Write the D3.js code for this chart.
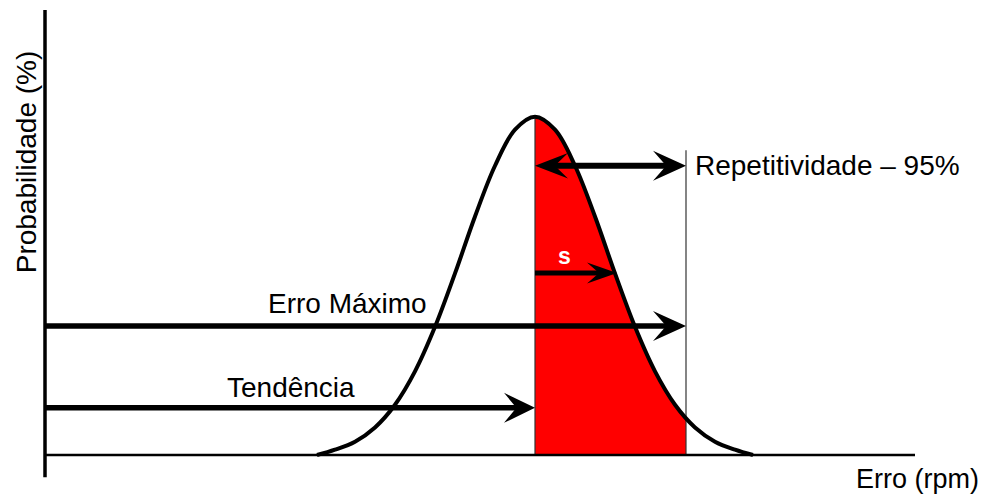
<!DOCTYPE html>
<html lang="pt">
<head>
<meta charset="utf-8">
<title>Erro - Tendência e Repetitividade</title>
<script src="https://cdn.jsdelivr.net/npm/d3@7"></script>
<style>
body { margin: 0; background: #fff; }
text {
  font-family: Arial, "Liberation Sans", sans-serif;
  font-size: 28px;
  fill: #000;
}
.bell { fill: none; stroke: #000; stroke-width: 4px; }
.axis { stroke: #000; }
.guide { stroke: #333; stroke-width: 1.2px; }
.shaft { stroke: #000; }
.head { fill: #000; }
</style>
</head>
<body>
<script>
// curva de distribuicao (erro relativo a media, probabilidade %)
var curveX = [-21.8, -20, -18, -16, -14, -12, -10, -8, -6, -4, -2, 0, 2, 4, 6, 8, 10, 12, 14, 16, 18, 20, 21.8];
var curveY = [0, 1.2, 3.0, 6.2, 11.3, 18.8, 28.8, 40.8, 53.6, 65.0, 73.1, 76, 73.1, 65.0, 53.6, 40.8, 28.8, 18.8, 11.3, 6.2, 3.0, 1.2, 0];

// grandezas marcadas (eixo x)
var erroDomain = [-49, 38];
var tendencia = 0;        // posicao da media
var repetitividade = 15.1; // limite 95%
var desvioS = 8.2;        // ponta da seta s

// alturas das setas (eixo y, %)
var probDomain = [0, 100];
var nivelRep = 65, nivelS = 40.9, nivelErroMax = 29, nivelTend = 10.6, topoGuia = 68.5;

var labels = {
  y: "Probabilidade (%)",
  x: "Erro (rpm)",
  rep: "Repetitividade \u2013 95%",
  erroMax: "Erro Máximo",
  tend: "Tendência",
  s: "s"
};

var w = 987, h = 496;

var svg = d3.select("body").append("svg")
  .attr("width", w)
  .attr("height", h);

var x = d3.scaleLinear().domain(erroDomain).range([45, 915]);
var y = d3.scaleLinear().domain(probDomain).range([455, 10]);

var pts = curveX.map(function(d, i){ return [d, curveY[i]]; });

// area vermelha entre media e limite de 95%
svg.append("clipPath").attr("id", "redclip")
  .append("rect")
  .attr("x", x(tendencia))
  .attr("y", 0)
  .attr("width", x(repetitividade) - x(tendencia))
  .attr("height", y(0));

var area = d3.area()
  .x(function(d){ return x(d[0]); })
  .y0(y(0))
  .y1(function(d){ return y(d[1]); })
  .curve(d3.curveCatmullRom);

svg.append("path")
  .datum(pts)
  .attr("d", area)
  .attr("clip-path", "url(#redclip)")
  .attr("fill", "#ff0000");

// linhas guia finas
svg.append("line").attr("class", "guide")
  .attr("x1", x(tendencia)).attr("x2", x(tendencia))
  .attr("y1", y(76)).attr("y2", y(0));
svg.append("line").attr("class", "guide")
  .attr("x1", x(repetitividade)).attr("x2", x(repetitividade))
  .attr("y1", y(topoGuia)).attr("y2", y(0));

// eixos
svg.append("line").attr("class", "axis")
  .attr("x1", x(erroDomain[0])).attr("x2", x(erroDomain[0]))
  .attr("y1", y(100)).attr("y2", y(-5))
  .attr("stroke-width", 3.5);
svg.append("line").attr("class", "axis")
  .attr("x1", x(erroDomain[0])).attr("x2", x(erroDomain[1]))
  .attr("y1", y(0)).attr("y2", y(0))
  .attr("stroke-width", 2.5);

// curva
var line = d3.line()
  .x(function(d){ return x(d[0]); })
  .y(function(d){ return y(d[1]); })
  .curve(d3.curveCatmullRom);

svg.append("path")
  .datum(pts)
  .attr("class", "bell")
  .attr("d", line);

// setas
function head(tx, ty, dir, len, hw){
  var p = [
    [tx, ty],
    [tx - dir*len, ty - hw],
    [tx - dir*len*0.6, ty],
    [tx - dir*len, ty + hw]
  ];
  svg.append("path").attr("class", "head")
    .attr("d", "M" + p.map(function(q){ return q.join(","); }).join("L") + "Z");
}

function arrow(v0, v1, level, sw, len, hw, both){
  var yy = y(level);
  svg.append("line").attr("class", "shaft")
    .attr("x1", x(v0) + (both ? len*0.5 : 0)).attr("x2", x(v1) - len*0.5)
    .attr("y1", yy).attr("y2", yy)
    .attr("stroke-width", sw);
  head(x(v1), yy, 1, len, hw);
  if (both) head(x(v0), yy, -1, len, hw*0.85);
}

arrow(tendencia, repetitividade, nivelRep, 6, 33, 15, true);
arrow(tendencia, desvioS, nivelS, 5, 30, 10.5, false);
arrow(erroDomain[0], repetitividade, nivelErroMax, 5.5, 33, 15, false);
arrow(erroDomain[0], tendencia, nivelTend, 5.5, 31, 15, false);

// textos
svg.append("text")
  .attr("transform", "translate(36," + 162 + ") rotate(-90)")
  .attr("text-anchor", "middle")
  .text(labels.y);

svg.append("text")
  .attr("x", 856).attr("y", 488)
  .style("font-size", "27px")
  .text(labels.x);

svg.append("text")
  .attr("x", x(repetitividade) + 9).attr("y", y(nivelRep) + 9)
  .text(labels.rep);

svg.append("text")
  .attr("x", 268).attr("y", y(nivelErroMax) - 13)
  .text(labels.erroMax);

svg.append("text")
  .attr("x", 227).attr("y", y(nivelTend) - 11)
  .text(labels.tend);

svg.append("text")
  .attr("x", x(tendencia) + 23).attr("y", y(nivelS) - 9)
  .style("fill", "#fff")
  .style("font-weight", "bold")
  .style("font-size", "23px")
  .text(labels.s);
</script>
</body>
</html>
